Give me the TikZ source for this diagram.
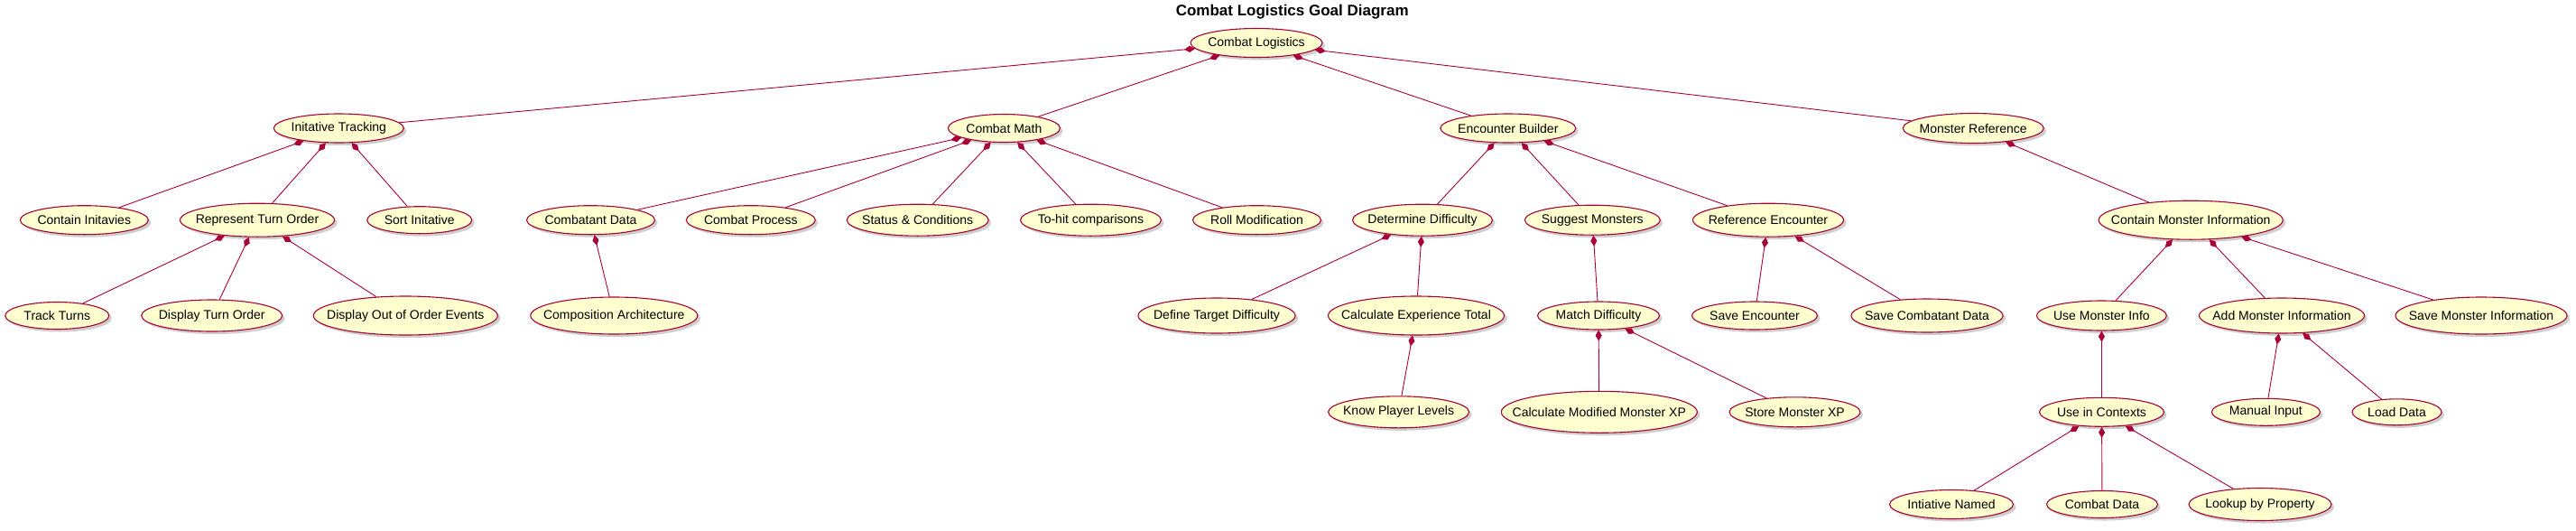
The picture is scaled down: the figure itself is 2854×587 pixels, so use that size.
\documentclass[tikz,border=0pt]{standalone}
\usepackage{fontspec}
\setmainfont{Liberation Sans}
\usetikzlibrary{shapes.geometric,arrows.meta,shadows}
\definecolor{ucborder}{HTML}{A80036}
\definecolor{ucfill}{HTML}{FEFECE}
\tikzset{
  uc/.style={ellipse, draw=ucborder, fill=ucfill, line width=1.1pt, inner sep=0pt,
    font=\fontsize{14}{16}\selectfont,
    drop shadow={shadow xshift=3pt, shadow yshift=-3pt, opacity=0.35, fill=black!55}},
  comp/.style={draw=ucborder, line width=0.9pt, {Diamond[length=12pt,width=7pt,fill=ucborder]}-},
  titlestyle/.style={font=\bfseries\fontsize{17}{20}\selectfont, inner sep=0pt}
}
\newcommand\ucnode[6]{\node[uc, minimum width=#4pt, minimum height=#5pt] (#1) at (#2,#3) {\makebox[0pt]{#6}};}
\begin{document}
\begin{tikzpicture}[x=1pt,y=-1pt]
\useasboundingbox (0,0) rectangle (2854,587);
\node[titlestyle] (title) at (1431.7,13.5) {Combat Logistics Goal Diagram};
% level 0
\ucnode{CL}{1392}{47.5}{146}{32}{Combat Logistics}
% level 1
\ucnode{IT}{375.3}{142}{144}{32}{Initative Tracking}
\ucnode{CM}{1112.4}{142}{124}{31}{Combat Math}
\ucnode{EB}{1670.8}{142}{150}{32}{Encounter Builder}
\ucnode{MR}{2186.2}{142}{156}{33}{Monster Reference}
% level 2
\ucnode{CI}{93.3}{243.7}{142}{32}{Contain Initavies}
\ucnode{RTO}{285}{243.7}{171}{37}{Represent Turn Order}
\ucnode{SI}{464.7}{243.7}{116}{30}{Sort Initative}
\ucnode{CD}{654.5}{243.7}{142}{32}{Combatant Data}
\ucnode{CP}{831.8}{243.7}{143}{32}{Combat Process}
\ucnode{SC}{1016.7}{243.7}{157}{35}{Status \& Conditions}
\ucnode{TH}{1208.5}{243.7}{156}{35}{To-hit comparisons}
\ucnode{RM}{1392.5}{243.7}{142}{32}{Roll Modification}
\ucnode{DD}{1576}{243.7}{155}{35}{Determine Difficulty}
\ucnode{SM}{1764.3}{243.7}{150}{33}{Suggest Monsters}
\ucnode{RE}{1959}{243.7}{167}{37}{Reference Encounter}
\ucnode{CMI}{2427.2}{243.7}{204}{43}{Contain Monster Information}
% level 3
\ucnode{TT}{63.3}{349.5}{115}{30}{Track Turns}
\ucnode{DTO}{234.7}{349.5}{156}{35}{Display Turn Order}
\ucnode{DOOE}{449.3}{349.5}{204}{43}{Display Out of Order Events}
\ucnode{CA}{680.3}{349.5}{185}{41}{Composition Architecture}
\ucnode{DTD}{1348}{349.5}{174}{39}{Define Target Difficulty}
\ucnode{CET}{1569}{349.5}{195}{43}{Calculate Experience Total}
\ucnode{MD}{1771}{349.5}{135}{31}{Match Difficulty}
\ucnode{SE}{1944}{349.5}{139}{31}{Save Encounter}
\ucnode{SCD}{2135}{349.5}{168}{37}{Save Combatant Data}
\ucnode{UMI}{2328.4}{349.5}{144}{33}{Use Monster Info}
\ucnode{AMI}{2528}{349.5}{183}{39}{Add Monster Information}
\ucnode{SMI}{2749}{349.5}{190}{41}{Save Monster Information}
% level 4
\ucnode{KPL}{1549.6}{456.3}{156}{35}{Know Player Levels}
\ucnode{CMMX}{1771.8}{456.3}{217}{46}{Calculate Modified Monster XP}
\ucnode{SMX}{1988.5}{456.3}{145}{33}{Store Monster XP}
\ucnode{UIC}{2328.5}{456.3}{138}{32}{Use in Contexts}
\ucnode{MI}{2510.4}{456.3}{120}{30}{Manual Input}
\ucnode{LD}{2655.5}{456.3}{99}{29}{Load Data}
% level 5
\ucnode{IN}{2162}{558.5}{137}{32}{Intiative Named}
\ucnode{CDa}{2329}{558.5}{123}{30}{Combat Data}
\ucnode{LBP}{2504}{558.5}{158}{36}{Lookup by Property}
% edges
\foreach \p/\c in {CL/IT, CL/CM, CL/EB, CL/MR,
  IT/CI, IT/RTO, IT/SI, RTO/TT, RTO/DTO, RTO/DOOE,
  CM/CD, CM/CP, CM/SC, CM/TH, CM/RM, CD/CA,
  EB/DD, EB/SM, EB/RE, DD/DTD, DD/CET, CET/KPL,
  SM/MD, MD/CMMX, MD/SMX, RE/SE, RE/SCD,
  MR/CMI, CMI/UMI, CMI/AMI, CMI/SMI, UMI/UIC,
  UIC/IN, UIC/CDa, UIC/LBP, AMI/MI, AMI/LD}
  \draw[comp] (\p) -- (\c);
\end{tikzpicture}
\end{document}
